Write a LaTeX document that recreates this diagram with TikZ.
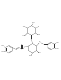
\documentclass[tikz,border=0pt]{standalone}
\usetikzlibrary{calc}
\begin{document}
\begin{tikzpicture}[x=1mm,y=-1mm,
  bond/.style={line width=0.3pt,draw=black!80},
  lab/.style={font=\fontsize{3.6}{3.6}\selectfont,inner sep=0.2pt,text=black!80}]
\useasboundingbox (0,0) rectangle (60,80);
% rhamnose ring
\coordinate (r1) at (27.5,28);
\coordinate (r2) at (31.5,25.8);
\coordinate (r3) at (35.5,28);
\coordinate (r4) at (35.5,33);
\coordinate (r5) at (31.5,35.2);
\coordinate (r6) at (27.5,33);
\draw[bond] (r1)--(r2)--(r3)--(r4)--(r5)--(r6)--cycle;
\node[lab] (ho1) at (24.2,27) {HO};
\node[lab] (oh2) at (33.5,23) {OH};
\node[lab] (o3) at (38.5,27.5) {O};
\node[lab] (oh4) at (38.8,35.5) {OH};
\node[lab] (ho6) at (24,36.5) {HO};
\draw[bond] (r1)--(ho1);
\draw[bond] (r2)--(oh2);
\draw[bond] (r3)--(o3);
\draw[bond] (r4)--(oh4);
\draw[bond] (r6)--(ho6);
\node[lab] (ol) at (31.5,39.6) {O};
\draw[bond] (r5)--(ol);
% glucose ring
\coordinate (g1) at (28.5,46);
\coordinate (g2) at (32.5,43.6);
\coordinate (g3) at (36.5,46);
\coordinate (g4) at (36.5,50.6);
\coordinate (g5) at (32.5,53);
\coordinate (g6) at (28.5,50.6);
\draw[bond] (g1)--(g2)--(g3)--(g4)--(g5)--(g6)--cycle;
\draw[bond] (ol)--(g2);
\node[lab] (oh5) at (30.5,56.5) {HO};
\node[lab] (oh4b) at (39.5,53.5) {OH};
\draw[bond] (g5)--(oh5);
\draw[bond] (g4)--(oh4b);
\node[lab] (og) at (39.8,42.3) {O};
\draw[bond] (g3)--(og);
\coordinate (c7) at (43.5,44.1);
\draw[bond] (og)--(c7);
% right ring
\coordinate (b1) at (47.6,44.1);
\coordinate (b2) at (50.9,42.2);
\coordinate (b3) at (54.2,44.1);
\coordinate (b4) at (54.2,47.9);
\coordinate (b5) at (50.9,49.8);
\coordinate (b6) at (47.6,47.9);
\draw[bond] (c7)--(b1);
\draw[bond] (b1)--(b2)--(b3)--(b4)--(b5)--(b6)--cycle;
\draw[bond] ($(b1)!0.18!(51,46)$)--($(b2)!0.18!(51,46)$);
\draw[bond] ($(b3)!0.18!(51,46)$)--($(b4)!0.18!(51,46)$);
\draw[bond] ($(b5)!0.18!(51,46)$)--($(b6)!0.18!(51,46)$);
\node[lab] (roh1) at (57.6,42.8) {OH};
\node[lab] (roh2) at (57.6,49.2) {OH};
\draw[bond] (b3)--(roh1);
\draw[bond] (b4)--(roh2);
% caffeoyl ester
\node[lab] (oe) at (25.2,47.2) {O};
\draw[bond] (g1)--(oe);
\coordinate (cc) at (21.8,49.2);
\draw[bond] (oe)--(cc);
\node[lab] (od) at (21.8,44.8) {O};
\draw[bond] ([xshift=-0.3mm]cc)--([xshift=-0.3mm]od.south);
\draw[bond] ([xshift=0.3mm]cc)--([xshift=0.3mm]od.south);
\coordinate (c2) at (18.6,47.4);
\coordinate (c1) at (15.4,49.2);
\draw[bond] (cc)--(c2);
\draw[bond] (c2)--(c1);
\draw[bond] ($(c2)+(0,0.6)$)--($(c1)+(0.5,0.6)$);
% left ring
\coordinate (a1) at (12.2,47.4);
\coordinate (a2) at (8.9,45.5);
\coordinate (a3) at (5.6,47.4);
\coordinate (a4) at (5.6,51.2);
\coordinate (a5) at (8.9,53.1);
\coordinate (a6) at (12.2,51.2);
\draw[bond] (c1)--(a1);
\draw[bond] (a1)--(a2)--(a3)--(a4)--(a5)--(a6)--cycle;
\draw[bond] ($(a1)!0.18!(8.9,49.3)$)--($(a2)!0.18!(8.9,49.3)$);
\draw[bond] ($(a3)!0.18!(8.9,49.3)$)--($(a4)!0.18!(8.9,49.3)$);
\draw[bond] ($(a5)!0.18!(8.9,49.3)$)--($(a6)!0.18!(8.9,49.3)$);
\node[lab] (loh1) at (2.6,46.2) {HO};
\node[lab] (loh2) at (2.6,52.4) {HO};
\draw[bond] (a3)--(loh1);
\draw[bond] (a4)--(loh2);
\end{tikzpicture}
\end{document}
